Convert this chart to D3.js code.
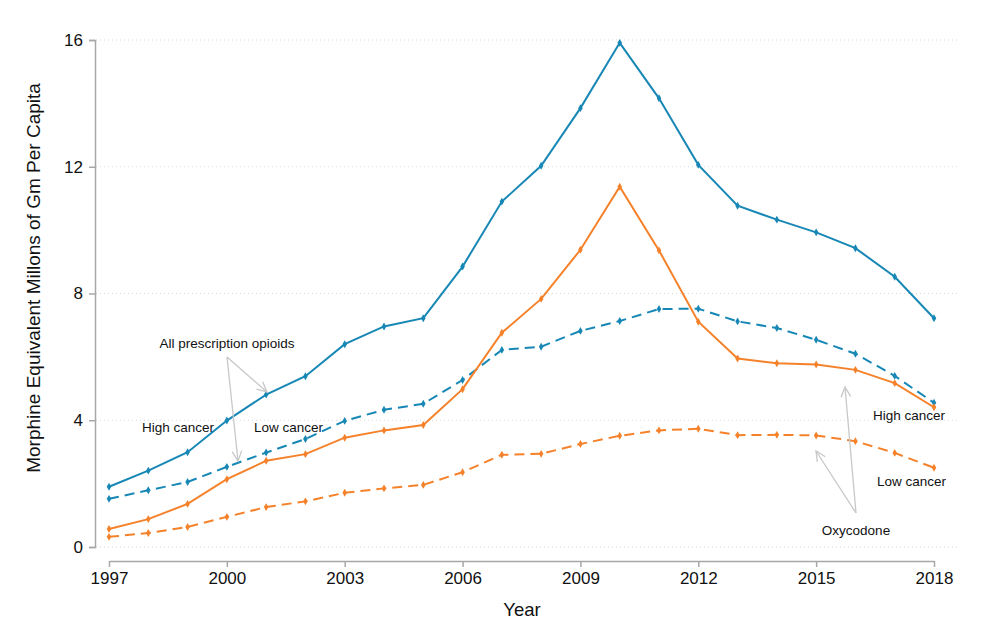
<!DOCTYPE html>
<html><head><meta charset="utf-8">
<script src="https://cdn.jsdelivr.net/npm/d3@7"></script>
<style>body{margin:0;background:#fff}svg{display:block}text{font-family:"Liberation Sans",Arial,sans-serif}</style>
</head><body><svg id="c" width="984" height="624"></svg>
<script>
const years = d3.range(1997, 2019);
const highAll = [1.90,2.41,2.99,3.99,4.81,5.39,6.40,6.96,7.22,8.85,10.90,12.03,13.85,15.91,14.16,12.06,10.77,10.33,9.93,9.43,8.53,7.22];
const lowAll  = [1.52,1.79,2.05,2.53,2.98,3.41,3.98,4.33,4.52,5.27,6.22,6.32,6.82,7.13,7.51,7.52,7.12,6.91,6.54,6.10,5.40,4.55];
const highOxy = [0.57,0.88,1.36,2.14,2.72,2.93,3.45,3.68,3.85,4.98,6.76,7.83,9.38,11.37,9.36,7.11,5.95,5.80,5.76,5.59,5.17,4.41];
const lowOxy  = [0.32,0.44,0.63,0.95,1.26,1.44,1.71,1.85,1.96,2.36,2.91,2.94,3.25,3.51,3.68,3.73,3.53,3.54,3.52,3.34,2.97,2.50];
const xTicks = [1997,2000,2003,2006,2009,2012,2015,2018];
const yTicks = [0,4,8,12,16];

const svg = d3.select("#c");
const x = d3.scaleLinear().domain([1997,2018]).range([109,934]);
const y = d3.scaleLinear().domain([0,16]).range([547,40]);
const blue = "#1787b5", orange = "#f5822a", grey = "#a8a8a8";

// grid
svg.append("g").selectAll("line").data(yTicks).join("line")
  .attr("x1",96).attr("x2",960).attr("y1",d=>y(d)).attr("y2",d=>y(d))
  .attr("stroke","#d8d8d8").attr("stroke-width",1).attr("stroke-dasharray","1,3");

// y axis
const ya = svg.append("g").attr("transform","translate(95,0)")
  .call(d3.axisLeft(y).tickValues(yTicks).tickSize(6).tickPadding(6));
ya.select(".domain").attr("stroke",grey).attr("stroke-width",1.5);
ya.selectAll(".tick line").attr("stroke",grey).attr("stroke-width",1.5);
ya.selectAll(".tick text").attr("font-size",17).attr("fill","#111").style("font-family","Liberation Sans, Arial, sans-serif");

// x axis
const xa = svg.append("g").attr("transform","translate(0,561)")
  .call(d3.axisBottom(x).tickValues(xTicks).tickFormat(d3.format("d")).tickSize(6).tickSizeOuter(0).tickPadding(5));
xa.select(".domain").attr("stroke",grey).attr("stroke-width",1.5);
xa.selectAll(".tick line").attr("stroke",grey).attr("stroke-width",1.5);
xa.selectAll(".tick text").attr("font-size",17).attr("fill","#111").style("font-family","Liberation Sans, Arial, sans-serif");

svg.append("text").attr("x",522).attr("y",616).attr("text-anchor","middle").attr("font-size",18.5).attr("fill","#111").text("Year");
svg.append("text").attr("transform","translate(40,278) rotate(-90)").attr("text-anchor","middle").attr("font-size",19).attr("fill","#111").text("Morphine Equivalent Millons of Gm Per Capita");

const series = [
  {v:highAll, c:blue, dash:null},
  {v:lowAll, c:blue, dash:"10,6"},
  {v:highOxy, c:orange, dash:null},
  {v:lowOxy, c:orange, dash:"10,6"}
];
const line = d3.line().x((d,i)=>x(years[i])).y(d=>y(d));
series.forEach(s=>{
  svg.append("path").datum(s.v).attr("d",line).attr("fill","none")
    .attr("stroke",s.c).attr("stroke-width",2).attr("stroke-dasharray",s.dash);
  svg.append("g").selectAll("path").data(s.v).join("path")
    .attr("d",d3.symbol(d3.symbolDiamond,18))
    .attr("transform",(d,i)=>`translate(${x(years[i])},${y(d)})`)
    .attr("fill",s.c);
});

// annotations
const agrey = "#c8c8c8";
function arrow(x1,y1,x2,y2){
  svg.append("line").attr("x1",x1).attr("y1",y1).attr("x2",x2).attr("y2",y2).attr("stroke",agrey).attr("stroke-width",1.3);
  const a = Math.atan2(y2-y1,x2-x1), L=11, w=0.45;
  const p = [[x2-L*Math.cos(a-w), y2-L*Math.sin(a-w)],[x2,y2],[x2-L*Math.cos(a+w), y2-L*Math.sin(a+w)]];
  svg.append("polyline").attr("points",p.map(q=>q.join(",")).join(" ")).attr("fill","none").attr("stroke",agrey).attr("stroke-width",1.3);
}
function label(t,xx,yy,anchor){
  svg.append("text").attr("x",xx).attr("y",yy).attr("text-anchor",anchor||"start").attr("font-size",13.5).attr("fill","#111").text(t);
}
label("All prescription opioids",227,348,"middle");
arrow(227,357,267,392);
arrow(227,357,238,461);
label("High cancer",142,432);
label("Low cancer",254,432);
label("High cancer",873,420);
label("Low cancer",877,486);
label("Oxycodone",856,535,"middle");
arrow(856,513,845,387);
arrow(856,513,816,451);
</script></body></html>
